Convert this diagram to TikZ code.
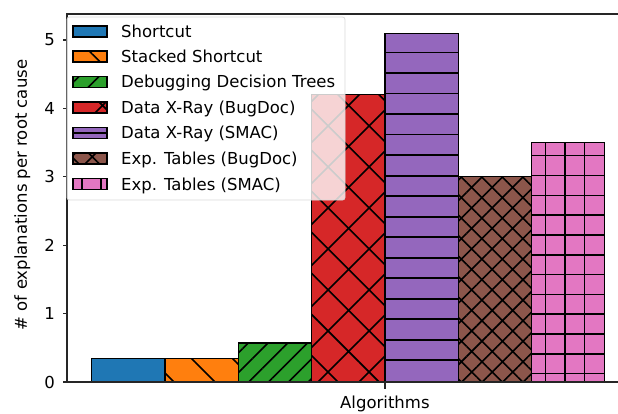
\documentclass[tikz,border=0pt]{standalone}
\usepackage{fontspec}
\setmainfont{DejaVu Sans}
\usetikzlibrary{patterns.meta}

\definecolor{tabblue}{HTML}{1F77B4}
\definecolor{taborange}{HTML}{FF7F0E}
\definecolor{tabgreen}{HTML}{2CA02C}
\definecolor{tabred}{HTML}{D62728}
\definecolor{tabpurple}{HTML}{9467BD}
\definecolor{tabbrown}{HTML}{8C564B}
\definecolor{tabpink}{HTML}{E377C2}

\tikzset{
	bar/.style={draw=black, line width=1.3pt, preaction={fill=#1}},
	hatchback/.style={preaction={pattern={Lines[angle=-45,distance=29pt,line width=1.6pt]}}},
	hatchfwd/.style={preaction={pattern={Lines[angle=45,distance=14pt,line width=1.6pt]}}},
	hatchx/.style={preaction={pattern={Hatch[angle=45,distance=29pt,line width=1.6pt]}}},
	hatchxx/.style={preaction={pattern={Hatch[angle=45,distance=14.5pt,line width=1.6pt]}}},
	hatchline/.style={draw=black, line width=1.6pt},
	spine/.style={draw=black!85, line width=1.2pt},
	legbox/.style={draw=black!15, line width=0.8pt, rounded corners=2.5pt, fill=white, fill opacity=0.8},
	leglab/.style={anchor=base west, inner sep=0pt},
	ticklab/.style={anchor=base east, inner sep=0pt}
}

\begin{document}
\begin{tikzpicture}[x=1pt, y=1pt, font=\fontsize{16.5pt}{19pt}\selectfont]
			%%%%% START %%%%%
			\useasboundingbox (0,0) rectangle (618,413);
			
			% bars
			\draw[bar=tabblue] (91.7,31) rectangle (165,54.3);
			\draw[bar=taborange, hatchback] (165,31) rectangle (238.3,54.3);
			\draw[bar=tabgreen, hatchfwd] (238.3,31) rectangle (311.6,70);
			\draw[bar=tabred, hatchx] (311.6,31) rectangle (384.9,318.3);
			\fill[tabpurple] (384.9,31) rectangle (458.2,379.8);
			\foreach \k in {0,...,15}
				\draw[hatchline] (384.9,{360.3-20.5*\k}) -- (458.2,{360.3-20.5*\k});
			\draw[bar=none] (384.9,31) rectangle (458.2,379.8);
			\draw[bar=tabbrown, hatchxx] (458.2,31) rectangle (531.5,236.2);
			\fill[tabpink] (531.5,31) rectangle (604.8,270.4);
			\foreach \k in {0,...,11}
				\draw[hatchline] (531.5,{257.3-19.8*\k}) -- (604.8,{257.3-19.8*\k});
			\foreach \k in {0,1,2}
				\draw[hatchline] ({545.5+19.5*\k},31) -- ({545.5+19.5*\k},270.4);
			\draw[bar=none] (531.5,31) rectangle (604.8,270.4);
			
			% axes
			\draw[spine] (618,399) -- (67,399) -- (67,31) -- (618,31);
			\foreach \k in {0,...,5}{
				\draw[spine] (63,{31+68.4*\k}) -- (67,{31+68.4*\k});
				\node[ticklab] (ytick\k) at (55,{25+68.4*\k}) {\k};
			}
			\draw[spine] (384.9,31) -- (384.9,24);
			\node[anchor=base] (xlab) at (384.9,5) {Algorithms};
			\node[rotate=90, anchor=base] (ylab) at (27,218) {\# of explanations per root cause};
			
			% legend
			\draw[legbox] (67,396) rectangle (345,213);
			\draw[bar=tabblue] (73,376) rectangle (107,387);
			\node[leglab] (leg1) at (121,375.5) {Shortcut};
			\draw[bar=taborange, hatchback] (73,351) rectangle (107,362);
			\node[leglab] (leg2) at (121,350.5) {Stacked Shortcut};
			\draw[bar=tabgreen, hatchfwd] (73,325.5) rectangle (107,336.5);
			\node[leglab] (leg3) at (121,325) {Debugging Decision Trees};
			\draw[bar=tabred, hatchx] (73,300) rectangle (107,311);
			\node[leglab] (leg4) at (121,299.5) {Data X-Ray (BugDoc)};
			\fill[tabpurple] (73,274.5) rectangle (107,285.5);
			\draw[hatchline] (73,280) -- (107,280);
			\draw[bar=none] (73,274.5) rectangle (107,285.5);
			\node[leglab] (leg5) at (121,274) {Data X-Ray (SMAC)};
			\draw[bar=tabbrown, hatchxx] (73,249) rectangle (107,260);
			\node[leglab] (leg6) at (121,248.5) {Exp. Tables (BugDoc)};
			\fill[tabpink] (73,223.5) rectangle (107,234.5);
			\draw[hatchline] (82,223.5) -- (82,234.5) (101,223.5) -- (101,234.5);
			\draw[bar=none] (73,223.5) rectangle (107,234.5);
			\node[leglab] (leg7) at (121,223) {Exp. Tables (SMAC)};
			
			%%%%% END %%%%%
\end{tikzpicture}
\end{document}
